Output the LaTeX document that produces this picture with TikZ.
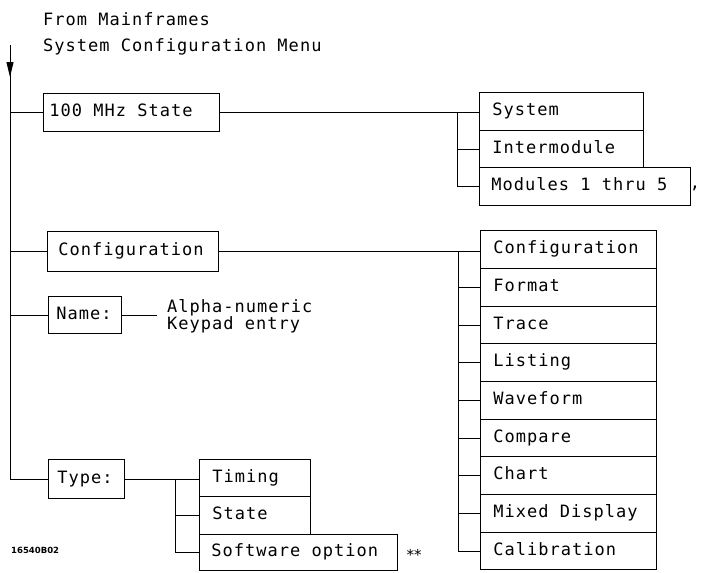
\documentclass[tikz,border=0pt]{standalone}
\usepackage{fontspec}
\setmainfont{DejaVu Sans Mono}[LetterSpace=6]
\newfontfamily\lblfont{DejaVu Sans}
\usetikzlibrary{arrows.meta}
\newcommand{\lbx}[2]{\makebox[#1][l]{#2}}
\tikzset{
  mbox/.style={draw, line width=0.8pt, anchor=north west, inner ysep=0pt,
    text height=12pt, text depth=3pt, font=\fontsize{17}{17}\selectfont},
  wire/.style={line width=0.8pt},
  plain/.style={inner sep=0pt, font=\fontsize{17}{17}\selectfont}
}
\begin{document}
\begin{tikzpicture}[x=1pt,y=-1pt]
\useasboundingbox (0,0) rectangle (702,573);
% title
\node[plain, anchor=base west] (t1) at (43,25) {From Mainframes};
\node[plain, anchor=base west] (t2) at (43,51) {System Configuration Menu};
% left column boxes
\node[mbox, inner xsep=6pt, minimum height=38pt] (mhz) at (43,93) {\lbx{164pt}{100 MHz State}};
\node[mbox, inner xsep=11pt, minimum height=40pt] (confL) at (47,231) {\lbx{149pt}{Configuration}};
\node[mbox, inner xsep=8pt, minimum height=37pt] (name) at (48,296) {\lbx{57pt}{Name:}};
\node[mbox, inner xsep=9pt, minimum height=39pt] (type) at (48,459) {\lbx{58pt}{Type:}};
% top right group
\node[mbox, inner xsep=13pt, minimum height=38pt] (sys) at (479,92) {\lbx{138pt}{System}};
\node[mbox, inner xsep=13pt, minimum height=37pt] (inter) at (479,130) {\lbx{138pt}{Intermodule}};
\node[mbox, inner xsep=12pt, minimum height=38pt] (mods) at (479,167) {\lbx{187pt}{Modules 1 thru 5}};
% right column
\foreach \n/\y/\h/\t in {c1/230/38/Configuration, c2/268/38/Format, c3/306/37/Trace,
  c4/343/38/Listing, c5/381/38/Waveform, c6/419/37/Compare, c7/456/38/Chart,
  c8/494/38/Mixed Display, c9/532/37/Calibration}{
  \node[mbox, inner xsep=13pt, minimum height=\h pt] (\n) at (480,\y) {\lbx{150pt}{\t}};
}
% type group
\node[mbox, inner xsep=13pt, minimum height=37pt] (timing) at (199,459) {\lbx{85pt}{Timing}};
\node[mbox, inner xsep=13pt, minimum height=38pt] (state) at (199,496) {\lbx{85pt}{State}};
\node[mbox, inner xsep=12pt, minimum height=36pt] (soft) at (199,534) {\lbx{174pt}{Software option}};
% texts
\node[plain, anchor=north west, align=left] (alpha) at (167,299) {Alpha-numeric\\Keypad entry};
\node[inner sep=0pt, font=\lblfont\fontsize{15}{15}\selectfont] (stars) at (414,555) {**};
\node[plain, anchor=center] (comma) at (695,188) {,};
\node[inner sep=0pt, anchor=west, font=\lblfont\bfseries\fontsize{8.5}{8.5}\selectfont] (fig) at (11,550) {16540B02};
% trunk
\coordinate (top) at (10,45);
\coordinate (ah) at (10,77);
\draw[wire] (top) |- (type.west);
\draw[wire, -{Triangle[length=15pt,width=7pt]}] (top) -- (ah);
\draw[wire] (mhz.west) -- (mhz.west -| top);
\draw[wire] (confL.west) -- (confL.west -| top);
\draw[wire] (name.west) -- (name.west -| top);
% 100 MHz branches
\coordinate (b1) at (457,0);
\draw[wire] (mhz.east) -- (mhz.east -| sys.west);
\draw[wire] (mhz.east -| b1) |- (inter.west);
\draw[wire] (mhz.east -| b1) |- (mods.west);
% configuration branches
\coordinate (b2) at (458,0);
\draw[wire] (confL.east) -- (confL.east -| c1.west);
\foreach \n in {c2,c3,c4,c5,c6,c7,c8,c9}{
  \draw[wire] (confL.east -| b2) |- (\n.west);
}
% name
\coordinate (ne) at (157,0);
\draw[wire] (name.east) -- (name.east -| ne);
% type branches
\coordinate (b3) at (175,0);
\draw[wire] (type.east) -- (type.east -| timing.west);
\draw[wire] (type.east -| b3) |- (state.west);
\draw[wire] (type.east -| b3) |- (soft.west);
\end{tikzpicture}
\end{document}
